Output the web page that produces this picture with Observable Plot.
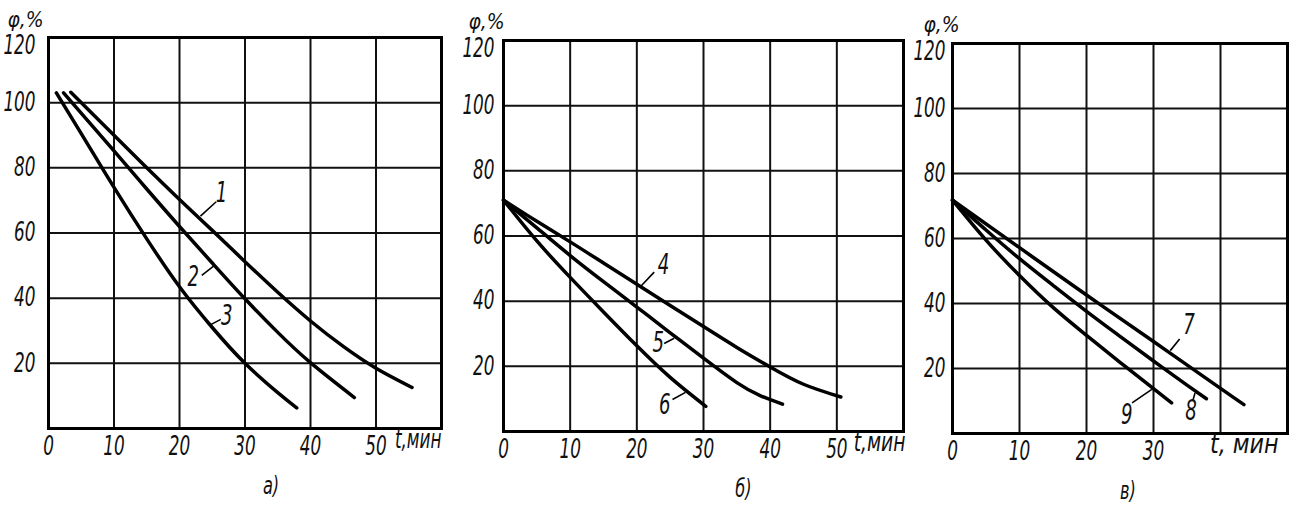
<!DOCTYPE html>
<html><head><meta charset="utf-8">
<script src="https://cdn.jsdelivr.net/npm/d3@7"></script>
<script src="https://cdn.jsdelivr.net/npm/@observablehq/plot@0.6"></script>
<style>
body{margin:0;background:#fff;}
#wrap{position:relative;width:1299px;height:509px;overflow:hidden;background:#fff;}
#wrap svg{position:absolute;top:0;overflow:visible;background:transparent;}
#wrap svg text{font-family:"DejaVu Sans Condensed","Liberation Sans Narrow","DejaVu Sans",sans-serif;font-style:italic;}
</style></head><body><div id="wrap"></div>
<script>
// ---------- data (t, мин ; φ, %) ----------
// panel а)
const tA1 = [3.4, 10, 15, 20, 25, 30, 35, 40, 45, 50, 55.5];
const phiA1 = [103.2, 90, 80, 70.3, 60.8, 51.2, 41.8, 33, 25.2, 18.5, 12.6];
const tA2 = [2.3, 10, 15, 20, 25, 30, 35, 40, 46.7];
const phiA2 = [103, 85.2, 73.5, 62, 50.8, 39.8, 29.5, 20.2, 9.5];
const tA3 = [1.2, 5, 10, 15, 20, 25, 30, 35, 37.9];
const phiA3 = [103, 90.5, 74, 58.2, 43.5, 31, 20, 11, 6.3];
// panel б)
const tB4 = [0, 5, 10, 15, 20, 25, 30, 35, 40, 45, 50.6];
const phiB4 = [71, 64.5, 58.2, 51.7, 45.2, 38.7, 32.2, 25.8, 19.8, 14.5, 10.6];
const tB5 = [0, 5, 10, 15, 20, 25, 30, 35, 38.5, 41.85];
const phiB5 = [71, 62.5, 54, 46, 38.2, 30.3, 22.5, 15, 11, 8.4];
const tB6 = [0, 5, 10, 15, 20, 25, 30.35];
const phiB6 = [71, 58.5, 47.3, 36.7, 26.3, 16.6, 7.7];
// panel в)
const tC7 = [0, 10, 20, 30, 40, 43.5];
const phiC7 = [71.8, 57.2, 42.6, 28.3, 13.9, 8.9];
const tC8 = [0, 5, 10, 15, 20, 25, 30, 35, 37.9];
const phiC8 = [71.8, 62.6, 53.8, 45.6, 37.6, 29.9, 22.3, 14.9, 10.7];
const tC9 = [0, 5, 10, 15, 20, 25, 30, 32.7];
const phiC9 = [71.8, 59.5, 48.6, 38.8, 30.2, 21.9, 13.8, 9.4];

// curve labels: text, position, leader (from -> to)
const labelsA = ["1", "2", "3"];
const labelTA = [26.4, 22.1, 27.2];
const labelPhiA = [72.4, 46.5, 34.4];
const leaderA = [[23.2, 65.2, 25.6, 69.6], [23.4, 47, 25.2, 49.8], [24.7, 31.8, 26.3, 33.5]];
const labelsB = ["4", "5", "6"];
const labelTB = [24, 23.2, 24.2];
const labelPhiB = [51.1, 27, 8.2];
const leaderB = [[20.6, 44.6, 22.6, 48.9], [24.1, 27, 25.6, 28.6], [25.35, 9.8, 27.3, 12.0]];
const labelsC = ["7", "8", "9"];
const labelTC = [35.3, 35.6, 26];
const labelPhiC = [33.3, 6.8, 5.8];
const leaderC = [[32.5, 25.5, 33.9, 29.1], [36.2, 12.5, 35.9, 10.3], [26.8, 9.4, 29.75, 13.6]];

const yTicks = [20, 40, 60, 80, 100];
const yTopTick = [120];
const yGrid = [20, 40, 60, 80, 100];
const xTicksAB = [0, 10, 20, 30, 40, 50];
const xTicksC = [0, 10, 20, 30];
const xGridAB = [10, 20, 30, 40, 50];
const xGridC = [10, 20, 30, 40];
const yTitle = "φ,%";
const captions = ["а)", "б)", "в)"];
const xTitles = ["t,мин", "t,мин", "t, мин"];

function series(ids, ts, phis) {
  return ids.flatMap((id, k) => ts[k].map((t, i) => ({id, t, phi: phis[k][i]})));
}
function labelRows(texts, ts, phis, leaders) {
  return texts.map((s, i) => ({s, t: ts[i], phi: phis[i], x1: leaders[i][0], y1: leaders[i][1], x2: leaders[i][2], y2: leaders[i][3]}));
}

function panel(o) {
  const svg = Plot.plot({
    width: o.W, height: 509,
    marginTop: o.mt, marginBottom: o.mb, marginLeft: o.ml, marginRight: o.mr,
    style: {background: "transparent", overflow: "visible"},
    x: {domain: o.xDomain, axis: null},
    y: {domain: [0, 120], axis: null},
    marks: [
      Plot.gridX(o.xGrid, {stroke: "#111", strokeOpacity: 1, strokeWidth: 2}),
      Plot.gridY(yGrid, {stroke: "#111", strokeOpacity: 1, strokeWidth: 2}),
      Plot.frame({stroke: "#000", strokeWidth: 3}),
      Plot.axisX(o.xTicks, {tickSize: 0, tickPadding: 8, fontSize: 26, label: null, fill: "#111"}),
      Plot.axisY(yTicks, {tickSize: 0, tickPadding: o.ypad, fontSize: 26, label: null, fill: "#111"}),
      Plot.axisY(yTopTick, {tickSize: 0, tickPadding: o.ypad, fontSize: 26, label: null, fill: "#111", dy: o.topDy}),
      Plot.line(o.data, {x: "t", y: "phi", z: "id", curve: "natural", stroke: "#000", strokeWidth: 3.5}),
      Plot.link(o.labels, {x1: "x1", y1: "y1", x2: "x2", y2: "y2", stroke: "#000", strokeWidth: 1.6}),
      Plot.text(o.labels, {x: "t", y: "phi", text: "s", fontSize: 28, fill: "#111"}),
      Plot.text([o.xTitle], {text: d => d, frameAnchor: "bottom-right", textAnchor: "end", dx: o.xtDx, dy: 19, fontSize: 26, fill: "#111"}),
      Plot.text([yTitle], {text: d => d, frameAnchor: "top-left", textAnchor: "middle", dx: o.phiDx, dy: o.phiDy, fontSize: 22, fill: "#111"}),
      Plot.text([o.caption], {text: d => d, frameAnchor: "bottom", textAnchor: "middle", dx: o.capDx, dy: 65, fontSize: 25, fill: "#111"})
    ]
  });
  svg.style.left = o.left + "px";
  document.getElementById("wrap").appendChild(svg);
  // condensed drafting lettering: squeeze glyphs horizontally around each text's anchor
  svg.querySelectorAll("text").forEach(t => {
    const s = t.textContent;
    const k = s === yTitle ? 0.95 : s === o.xTitle ? o.xtK : 0.72;
    const x = parseFloat(t.getAttribute("x")) || 0;
    const tr = t.getAttribute("transform") || "";
    t.setAttribute("transform", `${tr} translate(${x},0) scale(${k},1) translate(${-x},0)`);
  });
}

panel({
  left: 0, W: 450, mt: 37, mb: 81, ml: 48, mr: 9, ypad: 13, topDy: 8,
  xDomain: [0, 60], xTicks: xTicksAB, xGrid: xGridAB,
  data: series(["1", "2", "3"], [tA1, tA2, tA3], [phiA1, phiA2, phiA3]),
  labels: labelRows(labelsA, labelTA, labelPhiA, leaderA),
  xTitle: xTitles[0], xtDx: 0, xtK: 0.72, phiDx: -23, phiDy: -26, caption: captions[0], capDx: 26
});
panel({
  left: 445, W: 468, mt: 40, mb: 78, ml: 58, mr: 10, ypad: 9, topDy: 8,
  xDomain: [0, 60], xTicks: xTicksAB, xGrid: xGridAB,
  data: series(["4", "5", "6"], [tB4, tB5, tB6], [phiB4, phiB5, phiB6]),
  labels: labelRows(labelsB, labelTB, labelPhiB, leaderB),
  xTitle: xTitles[1], xtDx: 2, xtK: 0.8, phiDx: -17, phiDy: -27, caption: captions[1], capDx: 40
});
panel({
  left: 900, W: 397, mt: 43, mb: 76, ml: 52, mr: 10, ypad: 7, topDy: 8,
  xDomain: [0, 50], xTicks: xTicksC, xGrid: xGridC,
  data: series(["7", "8", "9"], [tC7, tC8, tC9], [phiC7, phiC8, phiC9]),
  labels: labelRows(labelsC, labelTC, labelPhiC, leaderC),
  xTitle: xTitles[2], xtDx: -9, xtK: 0.95, phiDx: -11, phiDy: -27, caption: captions[2], capDx: 8
});
</script>
</body></html>
